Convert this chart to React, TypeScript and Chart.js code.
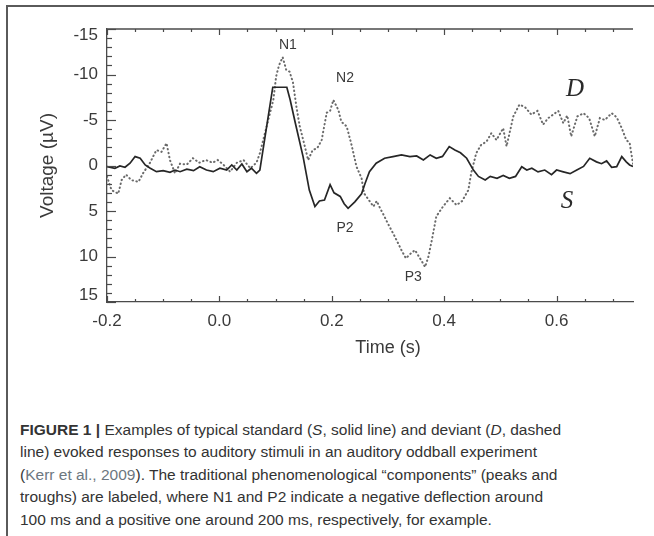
import React, { useEffect, useRef } from "react";
import { Chart, registerables } from "chart.js";
Chart.register(...registerables);

// Standard response (S, solid line)
const sTime = [-0.2, -0.186, -0.177, -0.168, -0.159, -0.15, -0.141, -0.132, -0.123, -0.112, -0.1, -0.088, -0.079, -0.07, -0.058, -0.046, -0.035, -0.023, -0.011, 0.001, 0.013, 0.022, 0.031, 0.04, 0.049, 0.057, 0.066, 0.072, 0.095, 0.12, 0.126, 0.135, 0.149, 0.16, 0.17, 0.178, 0.187, 0.197, 0.204, 0.215, 0.222, 0.229, 0.241, 0.253, 0.259, 0.267, 0.279, 0.294, 0.309, 0.324, 0.339, 0.351, 0.363, 0.375, 0.386, 0.397, 0.409, 0.419, 0.429, 0.44, 0.452, 0.461, 0.473, 0.482, 0.494, 0.505, 0.516, 0.527, 0.538, 0.547, 0.556, 0.567, 0.579, 0.591, 0.6, 0.612, 0.624, 0.636, 0.648, 0.659, 0.671, 0.68, 0.689, 0.698, 0.707, 0.716, 0.724, 0.73, 0.736];
const sVolt = [0.13, 0.31, 0.05, 0.19, -0.25, -0.98, -0.8, -0.06, 0.3, 0.68, 0.56, 0.75, 0.5, 0.68, 0.41, 0.56, 0.13, 0.5, 0.68, 0.3, 0.5, -0.06, 0.5, -0.17, 0.68, 0.3, 0.86, 0.5, -8.6, -8.6, -7.2, -4.7, -0.95, 2.7, 4.5, 3.9, 3.8, 2.1, 3.0, 3.4, 4.2, 4.7, 4.0, 3.1, 2.0, 0.68, -0.25, -0.8, -0.98, -1.16, -0.98, -1.05, -0.6, -1.16, -0.8, -1.0, -2.08, -1.7, -1.4, -0.8, 0.5, 1.2, 1.6, 1.2, 1.4, 1.1, 1.4, 1.2, 0.13, 0.5, 0.3, 0.7, 0.5, 1.0, 0.5, 0.7, 0.9, 0.5, 0.1, -0.8, -0.4, -0.2, -0.5, 0.2, 0.13, -0.98, -0.4, -0.06, 0.1];

// Deviant response (D, dotted line)
const dTime = [-0.2, -0.192, -0.18, -0.174, -0.166, -0.157, -0.144, -0.136, -0.124, -0.112, -0.103, -0.094, -0.088, -0.079, -0.07, -0.058, -0.047, -0.036, -0.024, -0.012, -0.003, 0.007, 0.019, 0.031, 0.043, 0.055, 0.066, 0.072, 0.096, 0.101, 0.106, 0.1126, 0.119, 0.125, 0.131, 0.137, 0.143, 0.152, 0.158, 0.166, 0.174, 0.182, 0.191, 0.197, 0.2028, 0.2117, 0.217, 0.2265, 0.235, 0.244, 0.253, 0.2575, 0.266, 0.274, 0.28, 0.286, 0.292, 0.3, 0.312, 0.324, 0.332, 0.34, 0.348, 0.357, 0.366, 0.372, 0.378, 0.386, 0.398, 0.41, 0.422, 0.432, 0.443, 0.448, 0.457, 0.466, 0.475, 0.484, 0.493, 0.505, 0.511, 0.523, 0.534, 0.544, 0.555, 0.566, 0.576, 0.585, 0.594, 0.603, 0.612, 0.619, 0.626, 0.637, 0.648, 0.658, 0.668, 0.677, 0.686, 0.698, 0.707, 0.716, 0.724, 0.73, 0.736];
const dVolt = [1.2, 2.7, 3.1, 1.6, 1.0, 1.6, 1.8, 0.86, -0.25, -1.7, -1.5, -2.45, -0.6, 0.86, -0.2, -0.1, -0.8, -0.3, -0.6, -0.3, -0.6, -0.1, 0.68, -0.3, -0.6, 0.3, -0.3, -1.35, -7.2, -9.8, -11.0, -11.9, -10.5, -10.3, -9.1, -6.5, -4.3, -2.1, -0.6, -1.7, -1.9, -2.8, -5.8, -6.0, -7.2, -6.1, -4.8, -4.3, -2.3, 0.13, 1.4, 3.06, 3.8, 4.5, 3.9, 4.7, 5.4, 6.4, 7.8, 9.3, 10.2, 9.7, 9.3, 10.2, 11.15, 10.0, 8.2, 5.6, 4.5, 3.6, 4.35, 3.9, 2.7, 0.86, -1.35, -2.3, -2.6, -3.55, -2.8, -4.1, -2.1, -5.4, -6.7, -6.4, -5.6, -6.0, -4.5, -5.2, -5.6, -6.0, -4.65, -5.5, -3.2, -5.4, -5.75, -5.2, -3.2, -5.2, -5.0, -5.75, -5.3, -4.1, -2.8, -2.5, -0.2];

const xTickValues = [-0.2, 0, 0.2, 0.4, 0.6];
const xTickLabels = ["-0.2", "0.0", "0.2", "0.4", "0.6"];
const yTickValues = [-15, -10, -5, 0, 5, 10, 15];
const yTickLabels = ["-15", "-10", "-5", "0", "5", "10", "15"];

const peakNames = ["N1", "N2", "P2", "P3"];
const peakTime = [0.122, 0.2235, 0.2235, 0.345];
const peakVolt = [-13.2, -9.6, 6.9, 12.3];

const seriesNames = ["D", "S"];
const seriesNameTime = [0.633, 0.6185];
const seriesNameVolt = [-8.4, 4.0];

const xTitle = "Time (s)";
const yTitle = "Voltage (µV)";

const X_MIN = -0.2;
const X_MAX = 0.736;
const Y_MIN = -15;
const Y_MAX = 15;

const INK = "#3a3a3a";
const SANS = "'Liberation Sans', Arial, sans-serif";

const decorPlugin = {
  id: "decor",
  afterDraw(chart: any) {
    const { ctx, chartArea, scales } = chart;
    const xs = scales.x;
    const ys = scales.y;
    ctx.save();
    ctx.strokeStyle = "#4a4a4a";
    ctx.lineWidth = 1.3;
    // top axis line
    ctx.beginPath();
    ctx.moveTo(chartArea.left, chartArea.top);
    ctx.lineTo(chartArea.right, chartArea.top);
    ctx.stroke();
    // x ticks (bottom and top, inward)
    ctx.lineWidth = 1.2;
    for (let i = -4; i <= 18; i++) {
      const v = i * 0.05;
      if (v < X_MIN - 1e-9 || v > X_MAX + 1e-9) continue;
      const px = Math.round(xs.getPixelForValue(v)) + 0.5;
      const major = i % 4 === 0;
      const len = major ? 6 : 3;
      ctx.beginPath();
      ctx.moveTo(px, chartArea.bottom);
      ctx.lineTo(px, chartArea.bottom - len);
      ctx.moveTo(px, chartArea.top);
      ctx.lineTo(px, chartArea.top + len);
      ctx.stroke();
    }
    // y ticks (left, inward)
    for (let v = Y_MIN; v <= Y_MAX; v++) {
      const py = Math.round(ys.getPixelForValue(v)) + 0.5;
      const major = v % 5 === 0;
      const len = major ? 9 : 5;
      ctx.beginPath();
      ctx.moveTo(chartArea.left, py);
      ctx.lineTo(chartArea.left + len, py);
      ctx.stroke();
    }
    // y tick labels (end labels kept inside the frame)
    ctx.fillStyle = INK;
    ctx.textAlign = "right";
    ctx.textBaseline = "middle";
    ctx.font = `17px ${SANS}`;
    yTickValues.forEach((v, i) => {
      const py = Math.min(Math.max(ys.getPixelForValue(v), chartArea.top + 6), chartArea.bottom - 7);
      ctx.fillText(yTickLabels[i], chartArea.left - 9, py);
    });
    // x-axis title
    ctx.textAlign = "center";
    ctx.font = `18px ${SANS}`;
    ctx.fillText(xTitle, (chartArea.left + chartArea.right) / 2 + 18, 348);
    // component labels
    ctx.font = `14px ${SANS}`;
    peakNames.forEach((n, i) => {
      ctx.fillText(n, xs.getPixelForValue(peakTime[i]), ys.getPixelForValue(peakVolt[i]));
    });
    ctx.fillStyle = "#2a2a2a";
    ctx.font = `italic 25px 'Liberation Serif', 'DejaVu Serif', serif`;
    seriesNames.forEach((n, i) => {
      ctx.fillText(n, xs.getPixelForValue(seriesNameTime[i]), ys.getPixelForValue(seriesNameVolt[i]));
    });
    ctx.restore();
  },
};

function ErpChart() {
  const ref = useRef<HTMLCanvasElement | null>(null);
  useEffect(() => {
    if (!ref.current) return;
    const chart = new Chart(ref.current, {
      type: "line",
      data: {
        datasets: [
          {
            label: "S",
            data: sTime.map((t, i) => ({ x: t, y: sVolt[i] })),
            borderColor: "#262626",
            borderWidth: 1.7,
            pointRadius: 0,
            tension: 0,
            fill: false,
          },
          {
            label: "D",
            data: dTime.map((t, i) => ({ x: t, y: dVolt[i] })),
            borderColor: "#6a6a6a",
            borderWidth: 2,
            borderDash: [0.5, 3.5],
            borderCapStyle: "round",
            pointRadius: 0,
            tension: 0,
            fill: false,
          },
        ],
      },
      options: {
        animation: false,
        responsive: false,
        maintainAspectRatio: false,
        events: [],
        layout: { padding: { left: 0, right: 21, top: 29, bottom: 0 } },
        plugins: { legend: { display: false }, tooltip: { enabled: false } },
        scales: {
          x: {
            type: "linear",
            min: X_MIN,
            max: X_MAX,
            grid: { display: false, drawTicks: false },
            border: { display: true, color: "#4a4a4a", width: 1.3 },
            afterBuildTicks: (s: any) => {
              s.ticks = xTickValues.map((v) => ({ value: v }));
            },
            afterFit: (s: any) => {
              s.height = 58;
            },
            ticks: {
              padding: 9,
              color: INK,
              font: { family: SANS, size: 17 },
              maxRotation: 0,
              autoSkip: false,
              callback: (v: any) => {
                const i = xTickValues.findIndex((t) => Math.abs(t - v) < 1e-9);
                return i >= 0 ? xTickLabels[i] : "";
              },
            },
            title: { display: false },
          },
          y: {
            type: "linear",
            reverse: true,
            min: Y_MIN,
            max: Y_MAX,
            grid: { display: false, drawTicks: false },
            border: { display: true, color: "#4a4a4a", width: 1.3 },
            afterBuildTicks: (s: any) => {
              s.ticks = yTickValues.map((v) => ({ value: v }));
            },
            afterFit: (s: any) => {
              s.width = 107;
            },
            ticks: { display: false },
            title: {
              display: true,
              text: yTitle,
              color: INK,
              font: { family: SANS, size: 19 },
              padding: { top: 36, bottom: 4 },
            },
          },
        },
      },
      plugins: [decorPlugin],
    });
    return () => chart.destroy();
  }, []);
  return (
    <canvas
      ref={ref}
      width={654}
      height={360}
      style={{ position: "absolute", left: 0, top: 0, width: 654, height: 360 }}
    />
  );
}

export default function App() {
  useEffect(() => {
    document.body.style.margin = "0";
    document.body.style.background = "#ffffff";
  }, []);
  const lineStyle: React.CSSProperties = { whiteSpace: "nowrap", height: 22.5, lineHeight: "22.5px" };
  return (
    <div style={{ position: "relative", width: 654, height: 536, overflow: "hidden", background: "#fff" }}>
      <div
        style={{
          position: "absolute",
          left: 6,
          top: 5,
          right: -4,
          bottom: -4,
          borderTop: "2px solid #5a5a5a",
          borderLeft: "2px solid #5a5a5a",
        }}
      />
      <ErpChart />
      <div
        style={{
          position: "absolute",
          left: 20,
          top: 418.75,
          fontFamily: SANS,
          fontSize: 15.5,
          color: "#333",
        }}
      >
        <div style={lineStyle}>
          <b>FIGURE 1 |</b> Examples of typical standard (<i>S</i>, solid line) and deviant (<i>D</i>, dashed
        </div>
        <div style={lineStyle}>line) evoked responses to auditory stimuli in an auditory oddball experiment</div>
        <div style={lineStyle}>
          (<span style={{ color: "#6d7780" }}>Kerr et al., 2009</span>). The traditional phenomenological “components” (peaks and
        </div>
        <div style={lineStyle}>troughs) are labeled, where N1 and P2 indicate a negative deflection around</div>
        <div style={lineStyle}>100 ms and a positive one around 200 ms, respectively, for example.</div>
      </div>
    </div>
  );
}
